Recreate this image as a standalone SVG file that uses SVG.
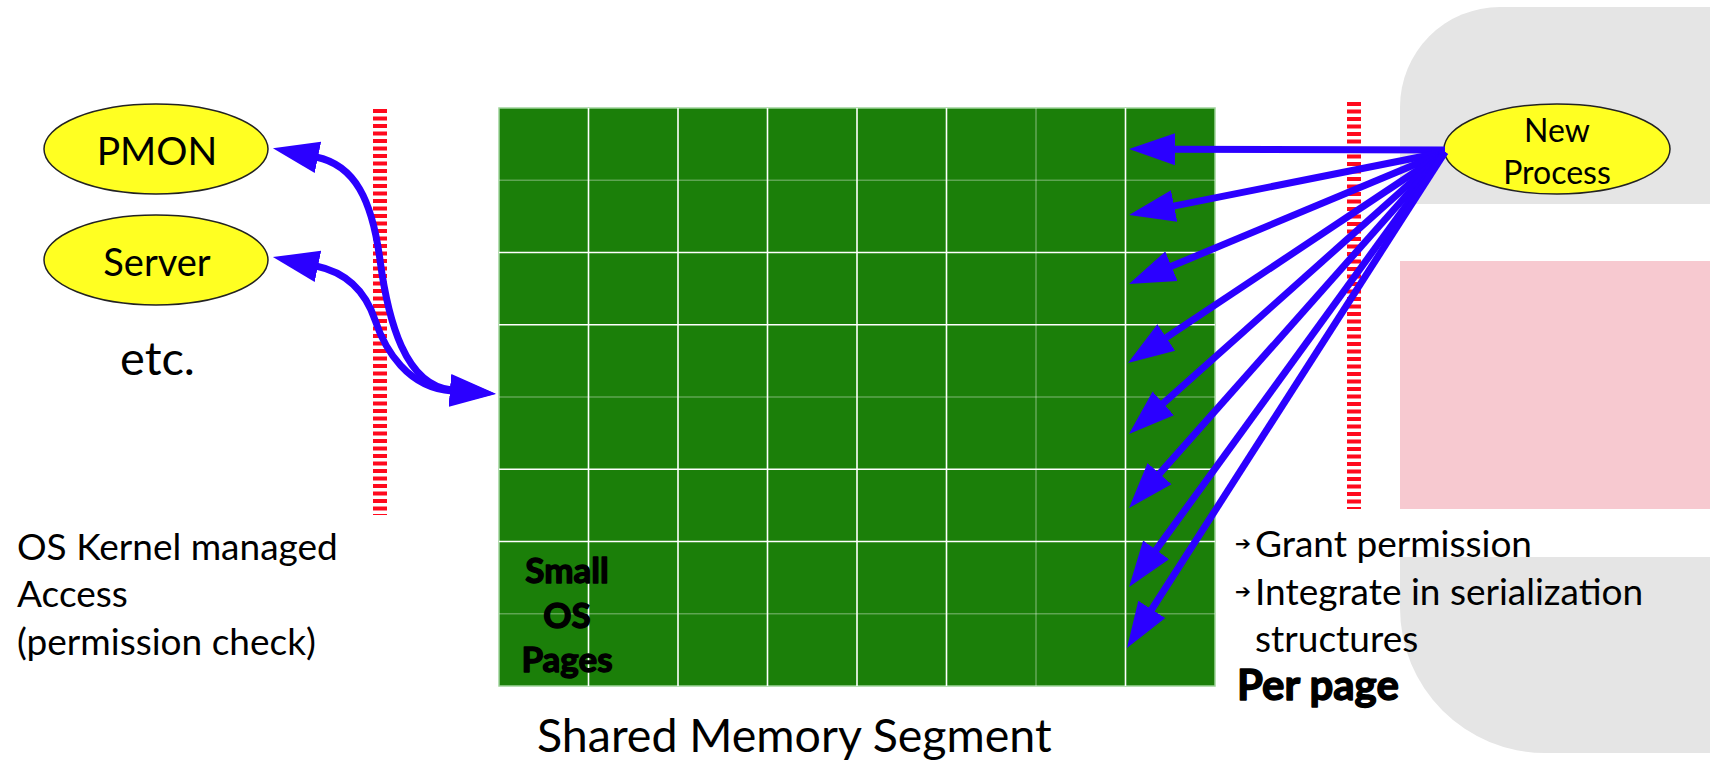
<svg xmlns="http://www.w3.org/2000/svg" width="1710" height="767" viewBox="0 0 1710 767">
<style>
.txt{font-family:"Lato","Liberation Sans",sans-serif;fill:#000}
.heavy{font-weight:700;stroke:#000;stroke-width:1.4;stroke-linejoin:round}
.node{fill:#ffff22;stroke:#222;stroke-width:1.5}
.gb{stroke:#ffffff;stroke-width:1.6}
.gf{stroke:#ffffff;stroke-opacity:0.3;stroke-width:1.6}
.fence{stroke:#ff0a1e;stroke-width:14;stroke-dasharray:4 3.5;fill:none}
.conn{stroke:#2b00ff;stroke-width:7;fill:none}
.bullet{font-family:"DejaVu Sans",sans-serif;font-size:19px;font-weight:700}
</style>
<defs>
<marker id="ah" markerUnits="userSpaceOnUse" markerWidth="50" markerHeight="36" viewBox="0 -18 50 36" refX="2" refY="0" orient="auto">
<path d="M0,-16 L46,0 L0,16 Z" fill="#2b00ff"/>
</marker>
<marker id="ahs" markerUnits="userSpaceOnUse" markerWidth="50" markerHeight="36" viewBox="0 -18 50 36" refX="2" refY="0" orient="auto-start-reverse">
<path d="M0,-16 L46,0 L0,16 Z" fill="#2b00ff"/>
</marker>
</defs>
<rect width="1710" height="767" fill="#ffffff"/>
<g id="background">
<path d="M1400,204 L1400,107 A100,100 0 0 1 1500,7 L1710,7 L1710,204 Z" fill="#e5e5e5"/>
<rect x="1400" y="261" width="310" height="248" fill="#f7c9d0"/>
<path d="M1400,557 L1710,557 L1710,753 L1545,753 A145,145 0 0 1 1400,608 Z" fill="#e5e5e5"/>
</g>
<g id="shared-memory">
<rect x="499" y="108" width="716" height="578" fill="#1b7f09" stroke="#9fd39a" stroke-width="1.5"/>
<line class="gf" x1="499" y1="180.3" x2="1215" y2="180.3"/>
<line class="gb" x1="499" y1="252.5" x2="1215" y2="252.5"/>
<line class="gb" x1="499" y1="324.8" x2="1215" y2="324.8"/>
<line class="gf" x1="499" y1="397" x2="1215" y2="397"/>
<line class="gb" x1="499" y1="469.3" x2="1215" y2="469.3"/>
<line class="gb" x1="499" y1="541.5" x2="1215" y2="541.5"/>
<line class="gf" x1="499" y1="613.8" x2="1215" y2="613.8"/>
<line class="gb" x1="588.5" y1="108" x2="588.5" y2="686"/>
<line class="gb" x1="678" y1="108" x2="678" y2="686"/>
<line class="gb" x1="767.5" y1="108" x2="767.5" y2="686"/>
<line class="gb" x1="857" y1="108" x2="857" y2="686"/>
<line class="gb" x1="946.5" y1="108" x2="946.5" y2="686"/>
<line class="gf" x1="1036" y1="108" x2="1036" y2="686"/>
<line class="gb" x1="1125.5" y1="108" x2="1125.5" y2="686"/>
<text class="txt heavy" font-size="35" text-anchor="middle"><tspan x="567" y="583">Small</tspan><tspan x="567" y="628">OS</tspan><tspan x="567" y="672">Pages</tspan></text>
<text class="txt" x="537" y="752" font-size="46.5">Shared Memory Segment</text>
</g>
<g id="fences">
<line class="fence" x1="380" y1="109" x2="380" y2="515"/>
<line class="fence" x1="1354" y1="102" x2="1354" y2="509"/>
</g>
<g id="pmon">
<ellipse class="node" cx="156" cy="149" rx="112" ry="45"/>
<text class="txt" x="157" y="165" font-size="39" text-anchor="middle">PMON</text>
</g>
<g id="server">
<ellipse class="node" cx="156" cy="260" rx="112" ry="45"/>
<text class="txt" x="157" y="276" font-size="38" text-anchor="middle">Server</text>
</g>
<g id="etc">
<text class="txt" x="120" y="375" font-size="47">etc.</text>
</g>
<g id="new-process">
<ellipse class="node" cx="1557" cy="149" rx="113" ry="45"/>
<text class="txt" font-size="32" text-anchor="middle"><tspan x="1557" y="142">New</tspan><tspan x="1557" y="184">Process</tspan></text>
</g>
<g id="kernel-note">
<text class="txt" font-size="37"><tspan x="17" y="560">OS Kernel managed</tspan><tspan x="17" y="607">Access</tspan><tspan x="17" y="655">(permission check)</tspan></text>
</g>
<g id="per-page-note">
<text class="txt" font-size="37"><tspan class="bullet" x="1235" y="550">➔</tspan><tspan x="1255" y="557">Grant permission</tspan><tspan class="bullet" x="1235" y="598">➔</tspan><tspan x="1255" y="605">Integrate in serialization</tspan><tspan x="1255" y="652">structures</tspan></text>
<text class="txt heavy" x="1237" y="700" font-size="42">Per page</text>
</g>
<g id="connectors">
<path class="conn" marker-start="url(#ahs)" marker-end="url(#ah)" d="M316,157 C355,165 372,200 380,260 C388,320 405,386 452,390"/>
<path class="conn" marker-start="url(#ahs)" marker-end="url(#ah)" d="M316,266 C345,272 365,290 375,320 C385,350 408,388 452,391"/>
<line class="conn" marker-end="url(#ah)" x1="1445" y1="150" x2="1173" y2="149.2"/>
<line class="conn" marker-end="url(#ah)" x1="1445" y1="152" x2="1172.2" y2="206.4"/>
<line class="conn" marker-end="url(#ah)" x1="1445" y1="152" x2="1169.6" y2="267"/>
<line class="conn" marker-end="url(#ah)" x1="1445" y1="152" x2="1164.6" y2="338.6"/>
<line class="conn" marker-end="url(#ah)" x1="1445" y1="152" x2="1161.8" y2="404.7"/>
<line class="conn" marker-end="url(#ah)" x1="1445" y1="152" x2="1158.2" y2="475.1"/>
<line class="conn" marker-end="url(#ah)" x1="1445" y1="152" x2="1154.9" y2="551.4"/>
<line class="conn" marker-end="url(#ah)" x1="1445" y1="152" x2="1150.7" y2="611"/>
</g>
</svg>
